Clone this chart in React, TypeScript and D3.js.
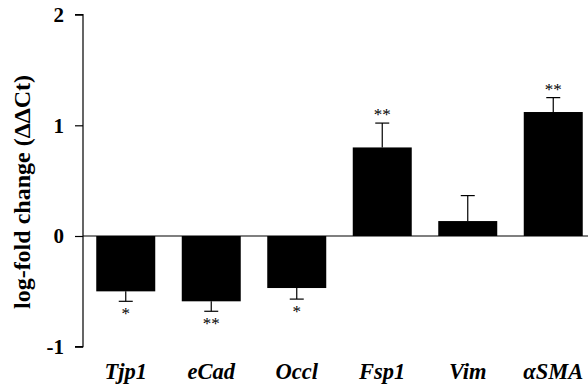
import React, { useEffect, useRef } from 'react';
import * as d3 from 'd3';

const genes = ['Tjp1', 'eCad', 'Occl', 'Fsp1', 'Vim', 'αSMA'];
const values = [-0.5, -0.59, -0.47, 0.8, 0.135, 1.12];
const errors = [0.09, 0.09, 0.1, 0.22, 0.23, 0.13];
const stars = ['*', '**', '*', '**', '', '**'];
const yTicks = [-1, 0, 1, 2];

const App: React.FC = () => {
  const svgRef = useRef<SVGSVGElement>(null);

  useEffect(() => {
    if (!svgRef.current) return;
    const svg = d3.select(svgRef.current);
    svg.selectAll('*').remove();

    const font = '"Liberation Serif", "Times New Roman", serif';

    const x = d3.scaleBand<string>().domain(genes).range([83, 596]).paddingInner(0.31).paddingOuter(0.155);
    const y = d3.scaleLinear().domain([-1, 2]).range([346.7, 14.6]);

    // y axis
    const yAxis = svg.append('g').attr('transform', 'translate(83,0)')
      .call(d3.axisLeft(y).tickValues(yTicks).tickSize(8).tickPadding(11).tickFormat(d => `${d}`));
    yAxis.select('.domain').attr('stroke', '#000').attr('stroke-width', 1.2)
      .attr('d', `M-8,${y(2)}H0V${y(-1)}H-8`);
    yAxis.selectAll('.tick line').attr('stroke', '#000').attr('stroke-width', 1.2);
    yAxis.selectAll('.tick text')
      .attr('font-family', font).attr('font-size', 21).attr('font-weight', 'bold').attr('fill', '#000');

    // axis title
    svg.append('text')
      .attr('transform', `translate(30,192) rotate(-90)`)
      .attr('text-anchor', 'middle')
      .attr('font-family', font).attr('font-size', 24).attr('font-weight', 'bold')
      .text('log-fold change (ΔΔCt)');

    // error bars
    genes.forEach((g, i) => {
      const cx = (x(g) as number) + x.bandwidth() / 2;
      const v = values[i];
      const end = v >= 0 ? v + errors[i] : v - errors[i];
      svg.append('line')
        .attr('x1', cx).attr('x2', cx).attr('y1', y(v)).attr('y2', y(end))
        .attr('stroke', '#000').attr('stroke-width', 1.2);
      svg.append('line')
        .attr('x1', cx - 7).attr('x2', cx + 7).attr('y1', y(end)).attr('y2', y(end))
        .attr('stroke', '#000').attr('stroke-width', 1.2);
      if (stars[i]) {
        svg.append('text')
          .attr('x', cx)
          .attr('y', v >= 0 ? y(end) - 3 : y(end) + 18)
          .attr('text-anchor', 'middle')
          .attr('font-family', font).attr('font-size', 17)
          .text(stars[i]);
      }
    });

    // bars
    svg.selectAll('rect.bar').data(genes).enter().append('rect')
      .attr('class', 'bar')
      .attr('x', d => x(d) as number)
      .attr('width', x.bandwidth())
      .attr('y', (_, i) => y(Math.max(0, values[i])))
      .attr('height', (_, i) => Math.abs(y(values[i]) - y(0)))
      .attr('fill', '#000');

    // zero line
    svg.append('line')
      .attr('x1', 83).attr('x2', 596).attr('y1', y(0)).attr('y2', y(0))
      .attr('stroke', '#000').attr('stroke-width', 1.2);

    // x labels
    svg.selectAll('text.xl').data(genes).enter().append('text')
      .attr('class', 'xl')
      .attr('x', d => (x(d) as number) + x.bandwidth() / 2)
      .attr('y', 379)
      .attr('text-anchor', 'middle')
      .attr('font-family', font).attr('font-size', 22.5)
      .attr('font-weight', 'bold').attr('font-style', 'italic')
      .text(d => d);
  }, []);

  return (
    <svg ref={svgRef} width={588} height={387}
      style={{ position: 'absolute', left: 0, top: 0, background: '#fff' }} />
  );
};

export default App;
